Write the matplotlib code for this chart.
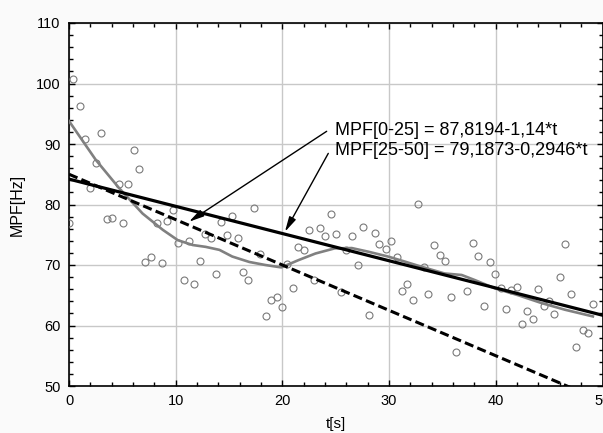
import matplotlib
matplotlib.use("Agg")
import matplotlib.pyplot as plt
from matplotlib.ticker import MultipleLocator

plt.rcParams['font.family'] = ['Liberation Sans', 'DejaVu Sans']

# measured MPF samples
t_pts = [0.03, 0.4, 1.03, 1.53, 1.97, 2.53, 3.0, 3.53, 4.06, 4.66, 5.09, 5.53,
         6.12, 6.59, 7.15, 7.66, 8.22, 8.69, 9.16, 9.72, 10.19, 10.78, 11.25,
         11.72, 12.28, 12.75, 13.31, 13.8, 14.25, 14.84, 15.28, 15.84, 16.34,
         16.78, 17.37, 17.9, 18.43, 18.9, 19.47, 19.93, 20.4, 20.96, 21.43,
         22.0, 22.5, 22.99, 23.55, 24.0, 24.55, 25.0, 25.5, 26.0, 26.55, 27.1,
         27.6, 28.15, 28.65, 29.1, 29.7, 30.15, 30.74, 31.2, 31.68, 32.24,
         32.71, 33.3, 33.68, 34.24, 34.8, 35.27, 35.8, 36.3, 37.33, 37.83,
         38.36, 38.86, 39.43, 39.9, 40.46, 40.96, 41.46, 41.99, 42.46, 42.95,
         43.52, 43.98, 44.55, 45.0, 45.49, 46.05, 46.5, 47.08, 47.55, 48.14,
         48.61, 49.1]
mpf_pts = [77.0, 100.7, 96.3, 90.9, 82.7, 86.9, 91.8, 77.6, 77.7, 83.4, 76.9,
           83.4, 89.0, 85.9, 70.45, 71.3, 76.9, 70.3, 77.3, 79.1, 73.7, 67.6,
           73.9, 66.9, 70.7, 75.1, 74.5, 68.5, 77.1, 75.0, 78.1, 74.5, 68.8,
           67.5, 79.5, 71.8, 61.6, 64.2, 64.7, 63.0, 70.1, 66.2, 72.9, 72.5,
           75.8, 67.5, 76.1, 74.85, 78.5, 75.2, 65.5, 72.4, 74.85, 70.05, 76.2,
           61.7, 75.3, 73.4, 72.6, 73.9, 71.3, 65.65, 66.9, 64.2, 80.1, 69.7,
           65.2, 73.25, 71.65, 70.65, 64.75, 55.6, 65.65, 73.7, 71.5, 63.3,
           70.5, 68.45, 66.25, 62.8, 65.9, 66.4, 60.25, 62.45, 61.0, 66.1,
           63.2, 64.1, 61.95, 68.0, 73.5, 65.15, 56.5, 59.3, 58.8, 63.6]

# smoothed trend (gray curve)
t_smooth = [0.0, 2.5, 4.7, 6.9, 8.8, 10.2, 11.6, 12.8, 14.1, 15.3, 16.9, 18.4,
            19.9, 21.5, 23.1, 24.9, 26.5, 28.05, 29.9, 31.5, 33.05, 35.2, 36.8,
            38.05, 39.9, 42.1, 44.3, 46.5, 49.1]
mpf_smooth = [93.8, 87.4, 82.7, 78.5, 75.8, 74.1, 73.3, 73.0, 72.5, 71.4, 70.5,
              70.0, 69.6, 70.8, 71.9, 72.75, 72.8, 72.2, 71.4, 70.55, 69.7,
              68.6, 68.35, 67.5, 66.15, 65.0, 63.7, 62.6, 61.5]

# linear fits (end points)
fit_t = [0, 50]
fit_all = [84.2, 61.7]
fit_first = [85.0, 47.5]

label_1 = "MPF[0-25] = 87,8194-1,14*t"
label_2 = "MPF[25-50] = 79,1873-0,2946*t"

fig = plt.figure(figsize=(6.03, 4.33), dpi=100, facecolor='#fafafa')
ax = fig.add_axes([69 / 603, 1 - 386 / 433, 533.5 / 603, 363 / 433])

ax.plot(t_pts, mpf_pts, 'o', mfc='none', mec='#7a7a7a', ms=5, mew=0.8, zorder=3)
ax.plot(t_smooth, mpf_smooth, color='#808080', lw=1.9, zorder=4)
ax.plot(fit_t, fit_first, color='black', lw=2.2, dashes=(3, 1.4), zorder=5)
ax.plot(fit_t, fit_all, color='black', lw=2.3, zorder=6)

ax.set_xlim(0, 50)
ax.set_ylim(50, 110)
ax.xaxis.set_major_locator(MultipleLocator(10))
ax.xaxis.set_minor_locator(MultipleLocator(2))
ax.yaxis.set_major_locator(MultipleLocator(10))
ax.yaxis.set_minor_locator(MultipleLocator(2))
ax.tick_params(which='both', direction='in', top=True, right=True,
               labelsize=10.5, pad=6, width=1)
ax.tick_params(which='major', length=4)
ax.tick_params(which='minor', length=3)
ax.grid(True, which='major', color='#c8c8c8', lw=1)
ax.set_axisbelow(True)
for s in ax.spines.values():
    s.set_linewidth(1.2)

ax.set_xlabel('t[s]', fontsize=11, labelpad=6)
ax.set_ylabel('MPF[Hz]', fontsize=11.5, labelpad=8)

ax.text(24.93, 92.3, label_1, fontsize=13, va='center', ha='left', zorder=7)
ax.text(24.93, 88.85, label_2, fontsize=13, va='center', ha='left', zorder=7)
arrow = dict(arrowstyle='-|>,head_length=0.9,head_width=0.22', color='black',
             lw=1, shrinkA=0, shrinkB=0)
ax.annotate('', xy=(11.25, 77.15), xytext=(24.15, 92.1), arrowprops=arrow, zorder=7)
ax.annotate('', xy=(20.24, 75.5), xytext=(24.3, 88.45), arrowprops=arrow, zorder=7)

fig.savefig('out.png', dpi=100, facecolor=fig.get_facecolor())
